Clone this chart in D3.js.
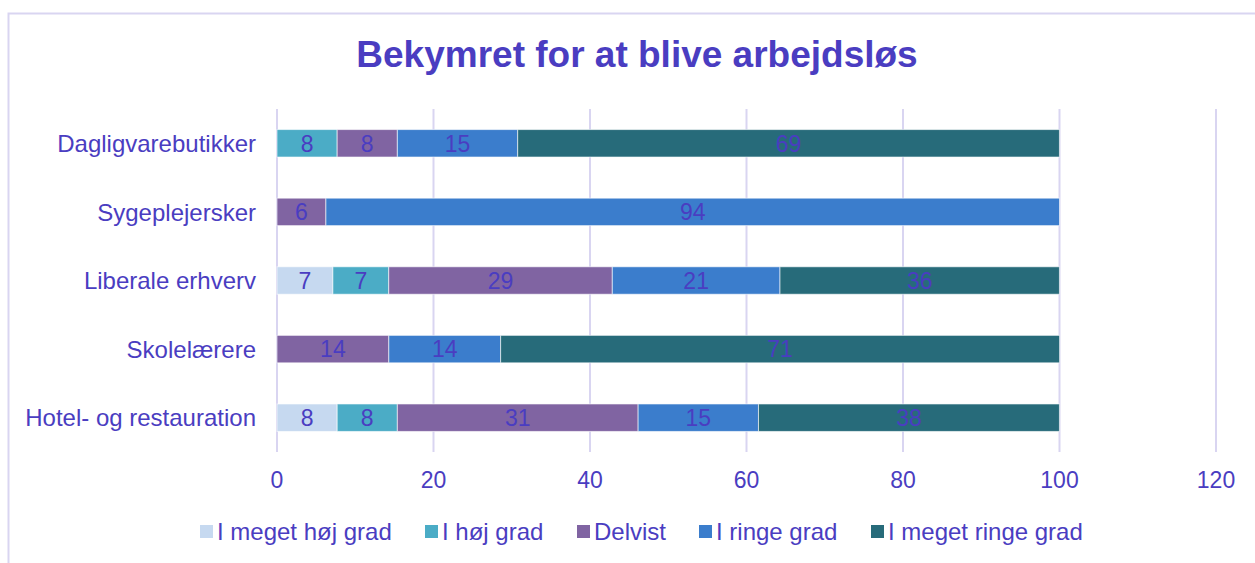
<!DOCTYPE html>
<html lang="da">
<head>
<meta charset="UTF-8">
<title>Bekymret for at blive arbejdsløs</title>
<script src="https://d3js.org/d3.v7.min.js"></script>
<style>
    body { margin: 0; background: #fff; font-family: 'Liberation Sans', Arial, sans-serif; }
    svg text { fill: #4a3dc1; }
</style>
</head>
<body>
<svg width="1255" height="563"></svg>
<script>
const categories = ["Dagligvarebutikker", "Sygeplejersker", "Liberale erhverv", "Skolelærere", "Hotel- og restauration"];
const seriesNames = ["I meget høj grad", "I høj grad", "Delvist", "I ringe grad", "I meget ringe grad"];
// percentages per category, in series order (0 = no segment)
const meGetHoej = [0, 0, 7.14, 0, 7.69];
const hoej = [7.69, 0, 7.14, 0, 7.69];
const delvist = [7.69, 6.25, 28.57, 14.29, 30.77];
const ringe = [15.38, 93.75, 21.43, 14.29, 15.38];
const meGetRinge = [69.23, 0, 35.71, 71.43, 38.46];
const ticks = [0, 20, 40, 60, 80, 100, 120];
const colors = ["#c6d9f0", "#4bacc6", "#8064a2", "#3b7dcc", "#276b7a"];

const svg = d3.select("svg");

// outer frame (bottom and right fall outside the picture)
svg.append("rect")
    .attr("x", 8.5).attr("y", 13.5)
    .attr("width", 1260).attr("height", 560)
    .attr("fill", "none").attr("stroke", "#d9d5f1").attr("stroke-width", 2);

svg.append("text")
    .attr("x", 637).attr("y", 67)
    .attr("text-anchor", "middle")
    .style("font-size", "37px").style("font-weight", "bold")
    .text("Bekymret for at blive arbejdsløs");

const x = d3.scaleLinear().domain([0, 120]).range([277, 1216]);
const y = d3.scaleBand().domain(categories).range([109, 452]).paddingInner(0.6).paddingOuter(0.3);

// gridlines
svg.append("g").selectAll("line")
    .data(ticks).join("line")
    .attr("x1", d => x(d)).attr("x2", d => x(d))
    .attr("y1", 109).attr("y2", 452)
    .attr("stroke", "#d9d5f1").attr("stroke-width", 2);

const rows = categories.map((c, i) => {
    const vals = [meGetHoej[i], hoej[i], delvist[i], ringe[i], meGetRinge[i]];
    const row = { cat: c };
    seriesNames.forEach((s, j) => row[s] = vals[j]);
    return row;
});
const stacked = d3.stack().keys(seriesNames)(rows);

const layer = svg.append("g").selectAll("g")
    .data(stacked).join("g")
    .attr("fill", (d, i) => colors[i]);

layer.selectAll("rect")
    .data(d => d.filter(p => p[1] - p[0] > 0))
    .join("rect")
    .attr("x", d => x(d[0]))
    .attr("width", d => x(d[1]) - x(d[0]))
    .attr("y", d => y(d.data.cat))
    .attr("height", y.bandwidth())
    .attr("stroke", "rgba(255,255,255,0.6)").attr("stroke-width", 1);

layer.selectAll("text")
    .data(d => d.filter(p => p[1] - p[0] > 0))
    .join("text")
    .attr("x", d => (x(d[0]) + x(d[1])) / 2)
    .attr("y", d => y(d.data.cat) + y.bandwidth() / 2)
    .attr("dy", "0.36em")
    .attr("text-anchor", "middle")
    .style("font-size", "23px")
    .text(d => Math.round(d[1] - d[0]));

// category labels
svg.append("g").selectAll("text")
    .data(categories).join("text")
    .attr("x", 256)
    .attr("y", d => y(d) + y.bandwidth() / 2)
    .attr("dy", "0.36em")
    .attr("text-anchor", "end")
    .style("font-size", "24px")
    .text(d => d);

// x tick labels
svg.append("g").selectAll("text")
    .data(ticks).join("text")
    .attr("x", d => x(d))
    .attr("y", 480)
    .attr("dy", "0.36em")
    .attr("text-anchor", "middle")
    .style("font-size", "23px")
    .text(d => d);

// legend
const legendX = [200, 425, 577, 699, 871];
const legend = svg.append("g").selectAll("g")
    .data(seriesNames).join("g")
    .attr("transform", (d, i) => `translate(${legendX[i]},531)`);
legend.append("rect")
    .attr("x", 0).attr("y", -6).attr("width", 13).attr("height", 13)
    .attr("fill", (d, i) => colors[i]);
legend.append("text")
    .attr("x", 17).attr("dy", "0.36em")
    .style("font-size", "24px")
    .text(d => d);
</script>
</body>
</html>
